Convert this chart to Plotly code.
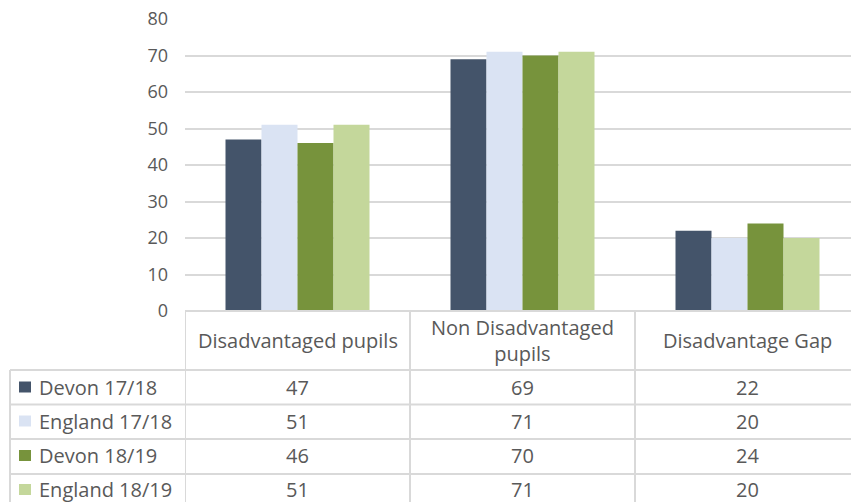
import plotly.graph_objects as go

CATEGORIES = ["Disadvantaged pupils", "Non Disadvantaged pupils", "Disadvantage Gap"]
HEADER_LABELS = ["Disadvantaged pupils", "Non Disadvantaged<br>pupils", "Disadvantage Gap"]

SERIES = ["Devon 17/18", "England 17/18", "Devon 18/19", "England 18/19"]
DEVON_1718 = [47, 69, 22]
ENGLAND_1718 = [51, 71, 20]
DEVON_1819 = [46, 70, 24]
ENGLAND_1819 = [51, 71, 20]
VALUES = [DEVON_1718, ENGLAND_1718, DEVON_1819, ENGLAND_1819]

COLORS = ["#44546A", "#DAE3F3", "#77933C", "#C4D79B"]

W, H = 851, 502
TEXT = "#595959"
LINE = "#D9D9D9"
FONT = "Open Sans"
TABLE_FONT = dict(family=FONT, size=20, color=TEXT)

# pixel layout of the Excel-style chart + data table (converted to paper fractions)
PLOT_LEFT, PLOT_TOP, PLOT_BOTTOM = 185, 19, 311
HEADER_BOTTOM = 370
ROW_LINES = [370, 404.5, 439, 474]
ROW_CENTERS = [387, 421, 455.5, 489.5]
TABLE_LEFT = 10


def px(x):
    return x / W


def py(y):
    return 1 - y / H


fig = go.Figure()
for name, vals, color in zip(SERIES, VALUES, COLORS):
    fig.add_trace(go.Bar(
        x=CATEGORIES,
        y=vals,
        name=name,
        marker=dict(color=color, line=dict(width=0)),
        showlegend=False,
    ))

shapes = []
line = dict(color=LINE, width=2)
# top of the table / zero line
shapes.append(dict(type="line", xref="paper", yref="paper",
                   x0=px(PLOT_LEFT), x1=1, y0=py(PLOT_BOTTOM), y1=py(PLOT_BOTTOM), line=line))
for ry in ROW_LINES:
    shapes.append(dict(type="line", xref="paper", yref="paper",
                       x0=px(TABLE_LEFT), x1=1, y0=py(ry), y1=py(ry), line=line))
# column boundaries sit between categories on the x axis
for cx in [-0.5, 0.5, 1.5]:
    shapes.append(dict(type="line", xref="x", yref="paper",
                       x0=cx, x1=cx, y0=py(PLOT_BOTTOM), y1=0, line=line))
shapes.append(dict(type="line", xref="paper", yref="paper",
                   x0=px(TABLE_LEFT), x1=px(TABLE_LEFT), y0=py(HEADER_BOTTOM), y1=0, line=line))

annotations = []
for cat, lab in zip(CATEGORIES, HEADER_LABELS):
    annotations.append(dict(x=cat, xref="x", y=py((PLOT_BOTTOM + HEADER_BOTTOM) / 2), yref="paper",
                            text=lab, showarrow=False, xanchor="center", yanchor="middle",
                            font=TABLE_FONT))
for name, vals, color, cy in zip(SERIES, VALUES, COLORS, ROW_CENTERS):
    # legend key square
    shapes.append(dict(type="rect", xref="paper", yref="paper",
                       x0=px(19), x1=px(31), y0=py(cy + 5.5), y1=py(cy - 5.5),
                       fillcolor=color, line=dict(width=0)))
    annotations.append(dict(x=px(37), xref="paper", y=py(cy), yref="paper",
                            text=name, showarrow=False, xanchor="left", yanchor="middle",
                            font=TABLE_FONT))
    for cat, v in zip(CATEGORIES, vals):
        annotations.append(dict(x=cat, xref="x", y=py(cy), yref="paper",
                                text=str(v), showarrow=False, xanchor="center", yanchor="middle",
                                font=TABLE_FONT))

fig.update_layout(
    width=W,
    height=H,
    margin=dict(l=0, r=0, t=0, b=0),
    paper_bgcolor="white",
    plot_bgcolor="white",
    barmode="group",
    bargap=0.36,
    bargroupgap=0,
    shapes=shapes,
    annotations=annotations,
    font=dict(family=FONT, color=TEXT),
    xaxis=dict(
        domain=[px(PLOT_LEFT), 1],
        range=[-0.5, 2.46],
        showticklabels=False,
        showgrid=False,
        zeroline=False,
        ticks="",
    ),
    yaxis=dict(
        domain=[py(PLOT_BOTTOM), py(PLOT_TOP)],
        range=[0, 80],
        dtick=10,
        gridcolor=LINE,
        gridwidth=2,
        zeroline=False,
        showline=False,
        ticks="",
        automargin=False,
        ticklabelstandoff=16,
        tickfont=dict(family=FONT, size=18, color=TEXT),
    ),
)

# pin the figure to the top-left corner and let it fill the whole viewport height
pin = (
    "document.body.style.margin='0';"
    "var gd=document.getElementById('{plot_id}');"
    "gd.style.position='fixed';gd.style.top='0';gd.style.left='0';"
    "gd.style.height=window.innerHeight+'px';"
    "Plotly.relayout(gd,{height:window.innerHeight});"
)
fig.write_html("out.html", config={"displayModeBar": False}, post_script=pin)
